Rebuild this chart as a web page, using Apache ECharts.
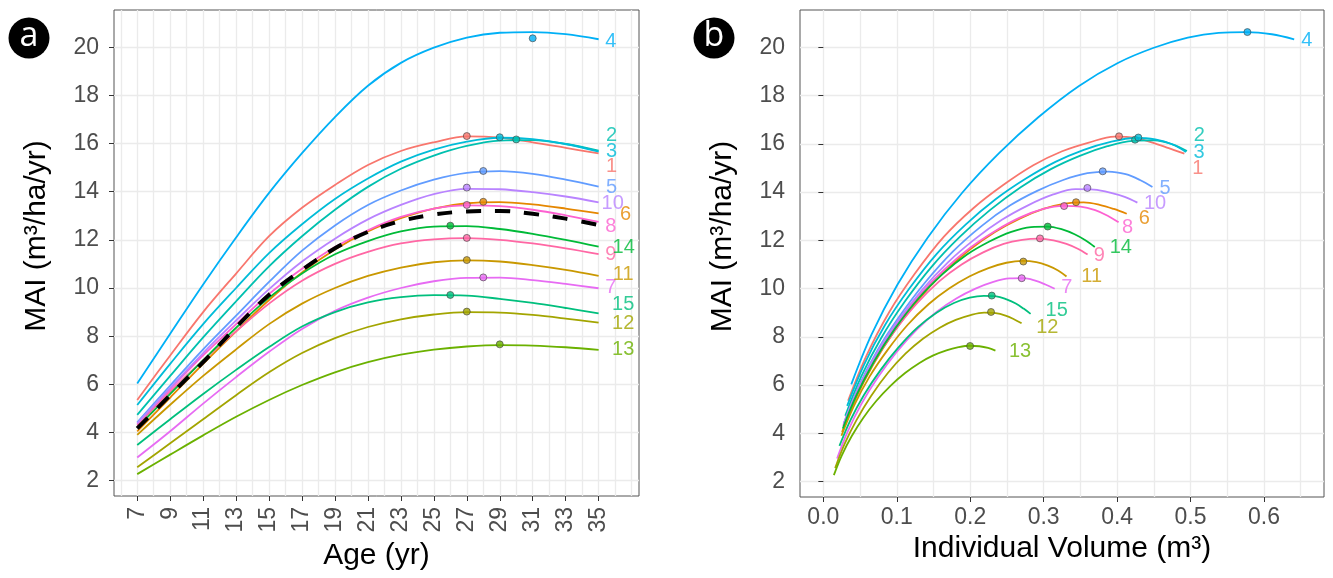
<!DOCTYPE html>
<html><head><meta charset="utf-8">
<script src="https://cdn.jsdelivr.net/npm/echarts@6/dist/echarts.min.js"></script>
<style>html,body{margin:0;padding:0;background:#fff}#c{width:1333px;height:578px}</style>
</head><body><div id="c"></div>
<script>
// ---------- data ----------
const ages = [7, 9, 11, 13, 15, 17, 19, 21, 23, 25, 27, 29, 31, 33, 35];
const ageTicks = [7, 9, 11, 13, 15, 17, 19, 21, 23, 25, 27, 29, 31, 33, 35];
const ageGrid = [6, 7, 8, 9, 10, 11, 12, 13, 14, 15, 16, 17, 18, 19, 20, 21, 22, 23, 24, 25, 26, 27, 28, 29, 30, 31, 32, 33, 34, 35, 36, 37];
const maiTicks = [2, 4, 6, 8, 10, 12, 14, 16, 18, 20];
const volTicks = [0, 0.1, 0.2, 0.3, 0.4, 0.5, 0.6];
const volGrid = [0, 0.05, 0.1, 0.15, 0.2, 0.25, 0.3, 0.35, 0.4, 0.45, 0.5, 0.55, 0.6, 0.65];
const curveNames = ['1', '2', '3', '4', '5', '6', '7', '8', '9', '10', '11', '12', '13', '14', '15'];

// MAI (m3/ha/yr) by age, one array per curve
const mai_1  = [5.35, 7.2, 9.0, 10.6, 12.15, 13.33, 14.28, 15.11, 15.69, 16.05, 16.3, 16.25, 16.05, 15.82, 15.59];
const mai_2  = [4.73, 6.35, 7.95, 9.45, 10.9, 12.15, 13.25, 14.2, 14.95, 15.5, 15.9, 16.12, 16.14, 15.98, 15.7];
const mai_3  = [5.14, 6.85, 8.5, 10.0, 11.45, 12.65, 13.7, 14.55, 15.25, 15.75, 16.08, 16.24, 16.18, 15.98, 15.66];
const mai_4  = [6.03, 8.1, 10.15, 12.1, 13.95, 15.6, 17.1, 18.4, 19.35, 19.98, 20.4, 20.6, 20.63, 20.54, 20.33];
const mai_5  = [4.42, 5.95, 7.45, 8.85, 10.25, 11.55, 12.6, 13.45, 14.05, 14.5, 14.78, 14.85, 14.74, 14.5, 14.21];
const mai_6  = [4.05, 5.45, 6.85, 8.2, 9.5, 10.65, 11.6, 12.35, 12.9, 13.3, 13.52, 13.57, 13.47, 13.3, 13.10];
const mai_7  = [2.96, 4.05, 5.2, 6.3, 7.35, 8.3, 9.05, 9.6, 10.0, 10.28, 10.42, 10.43, 10.33, 10.17, 9.99];
const mai_8  = [4.35, 5.8, 7.2, 8.5, 9.75, 10.8, 11.7, 12.4, 12.95, 13.3, 13.43, 13.4, 13.25, 13.02, 12.75];
const mai_9  = [4.3, 5.7, 7.0, 8.2, 9.35, 10.3, 11.0, 11.5, 11.85, 12.02, 12.07, 12.0, 11.85, 11.65, 11.41];
const mai_10 = [4.38, 5.85, 7.3, 8.65, 9.95, 11.1, 12.05, 12.85, 13.45, 13.9, 14.12, 14.1, 13.98, 13.8, 13.56];
const mai_11 = [3.9, 5.15, 6.35, 7.45, 8.5, 9.35, 10.0, 10.5, 10.85, 11.07, 11.15, 11.1, 10.95, 10.75, 10.5];
const mai_12 = [2.56, 3.55, 4.55, 5.55, 6.5, 7.3, 7.92, 8.38, 8.7, 8.9, 9.0, 8.98, 8.88, 8.73, 8.56];
const mai_13 = [2.27, 3.08, 3.88, 4.65, 5.35, 5.97, 6.5, 6.92, 7.23, 7.44, 7.57, 7.63, 7.61, 7.54, 7.43];
const mai_14 = [4.2, 5.6, 7.0, 8.35, 9.6, 10.6, 11.4, 11.95, 12.35, 12.55, 12.57, 12.45, 12.25, 12.0, 11.72];
const mai_15 = [3.48, 4.55, 5.6, 6.6, 7.55, 8.4, 9.0, 9.4, 9.62, 9.7, 9.68, 9.55, 9.38, 9.17, 8.95];
const mai_mean = [4.17, 5.55, 6.92, 8.37, 9.72, 10.75, 11.65, 12.33, 12.78, 13.05, 13.18, 13.2, 13.08, 12.88, 12.62];

// Individual volume (m3) at the same ages, one array per curve
const vol_1  = [0.0337, 0.0584, 0.0892, 0.1242, 0.1642, 0.2042, 0.2444, 0.2859, 0.3251, 0.3615, 0.3965, 0.4246, 0.4482, 0.4703, 0.4916];
const vol_2  = [0.0298, 0.0515, 0.0788, 0.1107, 0.1473, 0.1861, 0.2268, 0.2687, 0.3098, 0.3491, 0.3868, 0.4212, 0.4508, 0.4751, 0.4951];
const vol_3  = [0.0324, 0.0555, 0.0842, 0.1171, 0.1547, 0.1937, 0.2345, 0.2753, 0.3160, 0.3547, 0.3911, 0.4243, 0.4519, 0.4751, 0.4938];
const vol_4  = [0.0380, 0.0657, 0.1006, 0.1417, 0.1885, 0.2389, 0.2927, 0.3481, 0.4010, 0.4500, 0.4962, 0.5382, 0.5762, 0.6107, 0.6411];
const vol_5  = [0.0279, 0.0482, 0.0738, 0.1037, 0.1385, 0.1769, 0.2157, 0.2545, 0.2911, 0.3266, 0.3595, 0.3880, 0.4117, 0.4311, 0.4481];
const vol_6  = [0.0255, 0.0442, 0.0679, 0.0960, 0.1284, 0.1631, 0.1986, 0.2337, 0.2673, 0.2996, 0.3289, 0.3545, 0.3762, 0.3954, 0.4131];
const vol_7  = [0.0187, 0.0328, 0.0515, 0.0738, 0.0993, 0.1271, 0.1549, 0.1816, 0.2072, 0.2315, 0.2535, 0.2725, 0.2885, 0.3024, 0.3150];
const vol_8  = [0.0274, 0.0470, 0.0714, 0.0996, 0.1318, 0.1654, 0.2003, 0.2346, 0.2683, 0.2996, 0.3267, 0.3501, 0.3701, 0.3871, 0.4020];
const vol_9  = [0.0271, 0.0462, 0.0694, 0.0960, 0.1264, 0.1577, 0.1883, 0.2176, 0.2455, 0.2707, 0.2936, 0.3135, 0.3310, 0.3464, 0.3598];
const vol_10 = [0.0276, 0.0474, 0.0723, 0.1013, 0.1345, 0.1700, 0.2063, 0.2431, 0.2787, 0.3131, 0.3435, 0.3684, 0.3904, 0.4103, 0.4276];
const vol_11 = [0.0246, 0.0418, 0.0629, 0.0873, 0.1149, 0.1432, 0.1712, 0.1987, 0.2248, 0.2493, 0.2712, 0.2900, 0.3058, 0.3196, 0.3311];
const vol_12 = [0.0161, 0.0288, 0.0451, 0.0650, 0.0878, 0.1118, 0.1356, 0.1585, 0.1803, 0.2005, 0.2189, 0.2346, 0.2480, 0.2595, 0.2699];
const vol_13 = [0.0143, 0.0250, 0.0385, 0.0545, 0.0723, 0.0914, 0.1113, 0.1309, 0.1498, 0.1676, 0.1841, 0.1993, 0.2125, 0.2242, 0.2343];
const vol_14 = [0.0265, 0.0454, 0.0694, 0.0978, 0.1297, 0.1623, 0.1951, 0.2261, 0.2559, 0.2827, 0.3058, 0.3253, 0.3421, 0.3568, 0.3696];
const vol_15 = [0.0219, 0.0369, 0.0555, 0.0773, 0.1020, 0.1287, 0.1541, 0.1778, 0.1993, 0.2185, 0.2355, 0.2495, 0.2620, 0.2726, 0.2822];

// maximum points (left: age, MAI; right: volume, MAI), in curve order 1..15
const peakAge      = [27, 30, 29, 31, 28, 28, 28, 27, 27, 27, 27, 27, 29, 26, 26];
const peakMaiLeft  = [16.31, 16.17, 16.26, 20.37, 14.86, 13.58, 10.44, 13.45, 12.08, 14.17, 11.16, 9.02, 7.66, 12.59, 9.71];
const peakVol      = [0.4026, 0.4244, 0.4289, 0.5774, 0.3804, 0.3441, 0.2701, 0.3278, 0.2950, 0.3595, 0.2723, 0.2283, 0.1998, 0.3055, 0.2293];
const peakMaiRight = [16.31, 16.17, 16.26, 20.63, 14.86, 13.58, 10.43, 13.42, 12.08, 14.17, 11.12, 9.03, 7.62, 12.57, 9.71];

const maiCurves = [mai_1, mai_2, mai_3, mai_4, mai_5, mai_6, mai_7, mai_8, mai_9, mai_10, mai_11, mai_12, mai_13, mai_14, mai_15];
const volCurves = [vol_1, vol_2, vol_3, vol_4, vol_5, vol_6, vol_7, vol_8, vol_9, vol_10, vol_11, vol_12, vol_13, vol_14, vol_15];

// ---------- style ----------
const colors = ['#F8766D', '#00C0AF', '#00BCD8', '#00B0F6', '#619CFF', '#E58700', '#E76BF3', '#FD61D1', '#FF67A4', '#B983FF', '#C99800', '#A3A500', '#6BB100', '#00BA38', '#00BF7D'];
// label nudges in pixels from the curve end
const nudgeLeft = [[13, 13.3], [13, -15.7], [13, 0], [12.3, 2.4], [13, 1], [27, 1.6], [12.3, -1], [12.3, 4.9], [12.3, 0], [14, 1.7], [24.6, -1], [24.6, 0.6], [24.6, 0], [25, 0.7], [24.6, -8.3]];
const nudgeRight = [[13.4, 14.9], [12.4, -15.7], [13.1, 0.6], [12.6, 1.4], [12.6, 1.7], [17.6, 5], [12.1, -1], [9, 4.9], [11.8, 1], [17.7, 0.4], [25.2, 0], [25.8, 4], [24.6, 0.8], [26, 0], [26.1, -3.3]];

const FONT = '"Liberation Sans", Arial, sans-serif';
const TICK_COLOR = '#4d4d4d';
const GRID_COLOR = '#ebebeb';

function valueAxis(gridIndex, min, max, ticks, opts) {
  return Object.assign({
    type: 'value', gridIndex, min, max,
    axisLine: { show: false },
    axisTick: { show: true, customValues: ticks, length: 5, lineStyle: { color: '#333', width: 1 } },
    axisLabel: { show: true, customValues: ticks, fontSize: 23, color: TICK_COLOR, fontFamily: FONT },
    splitLine: { show: false },
    nameTextStyle: { fontSize: 30, color: '#000', fontFamily: FONT }
  }, opts);
}
function gridAxis(gridIndex, min, max, vals) {
  return {
    type: 'value', gridIndex, min, max,
    axisLine: { show: false },
    axisTick: { show: false, customValues: vals },
    axisLabel: { show: false, customValues: vals },
    splitLine: { show: true, lineStyle: { color: GRID_COLOR, width: 1.3 } }
  };
}

const xAxis = [
  valueAxis(0, 5.59, 37.45, ageTicks, {
    name: 'Age (yr)', nameLocation: 'middle', nameGap: 45,
    axisLabel: { show: true, customValues: ageTicks, fontSize: 23, color: TICK_COLOR, fontFamily: FONT, rotate: 90, margin: 11 }
  }),
  gridAxis(0, 5.59, 37.45, ageGrid),
  valueAxis(1, -0.0318, 0.6817, volTicks, {
    name: 'Individual Volume (m³)', nameLocation: 'middle', nameGap: 36,
    axisLabel: { show: true, customValues: volTicks, fontSize: 23, color: TICK_COLOR, fontFamily: FONT, margin: 9,
      formatter: v => Number(v).toFixed(1) }
  }),
  gridAxis(1, -0.0318, 0.6817, volGrid)
];
function yAx(gridIndex) {
  const a = valueAxis(gridIndex, 1.362, 21.545, maiTicks, {
    name: 'MAI (m³/ha/yr)', nameLocation: 'middle', nameGap: 62, nameRotate: 90,
    splitLine: { show: true, lineStyle: { color: GRID_COLOR, width: 1.3 } }
  });
  a.nameTextStyle = { fontSize: 30, color: '#000', fontFamily: FONT, padding: [0, 0, 0, 34] };
  a.axisLabel.margin = 15;
  return a;
}
const yAxis = [yAx(0), yAx(1)];

const series = [];
// left panel curves
maiCurves.forEach((m, i) => {
  series.push({
    type: 'line', name: curveNames[i], xAxisIndex: 0, yAxisIndex: 0,
    data: ages.map((a, j) => [a, m[j]]), showSymbol: false, smooth: 0.35,
    lineStyle: { color: colors[i], width: 1.8 }, z: 3, silent: true
  });
});
series.push({
  type: 'line', name: 'mean', xAxisIndex: 0, yAxisIndex: 0,
  data: ages.map((a, j) => [a, mai_mean[j]]), showSymbol: false, smooth: 0.35,
  lineStyle: { color: '#000', width: 4, type: [15, 14] }, z: 4, silent: true
});
// right panel curves
maiCurves.forEach((m, i) => {
  series.push({
    type: 'line', name: curveNames[i], xAxisIndex: 2, yAxisIndex: 1,
    data: volCurves[i].map((v, j) => [v, m[j]]), showSymbol: false, smooth: 0.35,
    lineStyle: { color: colors[i], width: 1.8 }, z: 3, silent: true
  });
});
// peak markers
series.push({
  type: 'scatter', xAxisIndex: 0, yAxisIndex: 0, z: 5, silent: true, symbolSize: 7,
  data: peakAge.map((a, i) => ({ value: [a, peakMaiLeft[i]], itemStyle: { color: colors[i], borderColor: '#444', borderWidth: 0.8 } }))
});
series.push({
  type: 'scatter', xAxisIndex: 2, yAxisIndex: 1, z: 5, silent: true, symbolSize: 7,
  data: peakVol.map((v, i) => ({ value: [v, peakMaiRight[i]], itemStyle: { color: colors[i], borderColor: '#444', borderWidth: 0.8 } }))
});
// end labels
function labelSeries(xi, yi, xs, nudges) {
  return {
    type: 'scatter', xAxisIndex: xi, yAxisIndex: yi, z: 6, silent: true, symbolSize: 0,
    data: maiCurves.map((m, i) => ({
      value: [xs[i], m[m.length - 1]],
      label: { show: true, position: 'inside', formatter: curveNames[i], color: colors[i], fontSize: 20,
        fontFamily: FONT, offset: nudges[i], align: 'center', verticalAlign: 'middle' }
    }))
  };
}
series.push(labelSeries(0, 0, maiCurves.map(() => ages[ages.length - 1]), nudgeLeft));
series.push(labelSeries(2, 1, volCurves.map(v => v[v.length - 1]), nudgeRight));

const chart = echarts.init(document.getElementById('c'), null, { renderer: 'canvas' });
chart.setOption({
  animation: false,
  backgroundColor: '#fff',
  textStyle: { fontFamily: FONT },
  grid: [
    { left: 114, top: 10, width: 525, height: 486, show: true, borderColor: '#555', borderWidth: 1, backgroundColor: '#fff', containLabel: false },
    { left: 800, top: 10, width: 524, height: 487, show: true, borderColor: '#555', borderWidth: 1, backgroundColor: '#fff', containLabel: false }
  ],
  xAxis, yAxis, series,
  graphic: [
    { type: 'circle', shape: { cx: 29, cy: 38, r: 20.5 }, style: { fill: '#000' } },
    { type: 'text', x: 29, y: 36, style: { text: 'a', fill: '#fff', font: '34px "Open Sans", sans-serif', align: 'center', verticalAlign: 'middle' } },
    { type: 'circle', shape: { cx: 714, cy: 38, r: 20.5 }, style: { fill: '#000' } },
    { type: 'text', x: 714, y: 36, style: { text: 'b', fill: '#fff', font: '34px "Open Sans", sans-serif', align: 'center', verticalAlign: 'middle' } }
  ]
});
</script>
</body></html>
